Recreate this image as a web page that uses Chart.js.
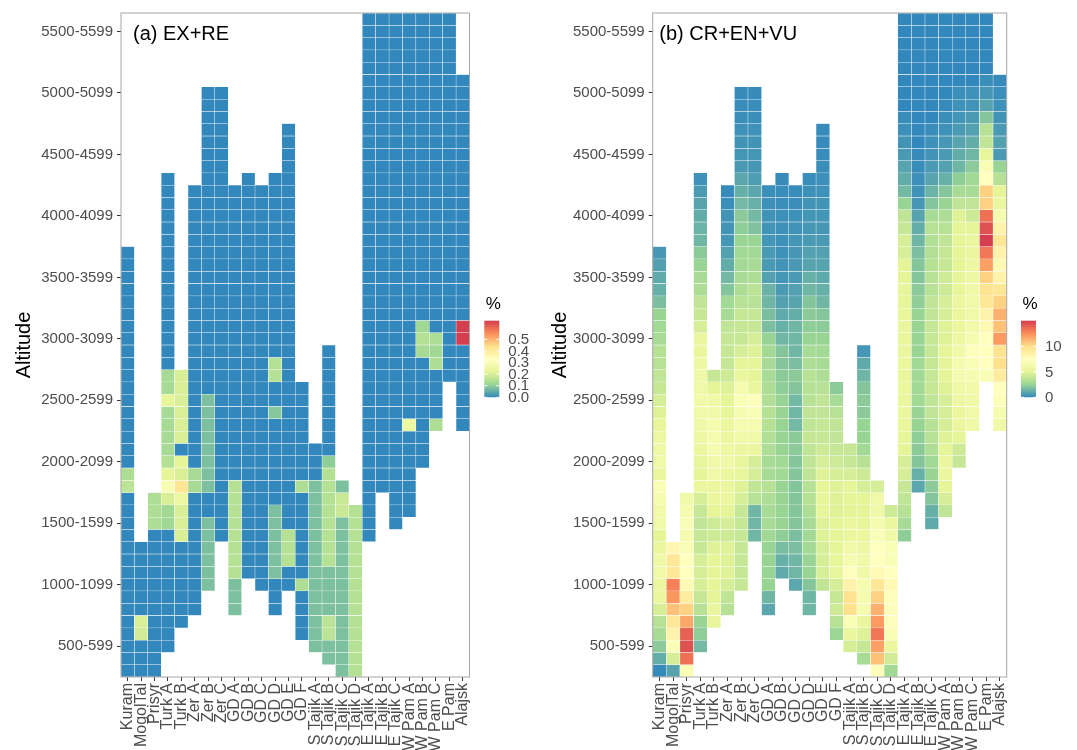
<!DOCTYPE html>
<html>
<head>
<meta charset="utf-8">
<title>Threatened species by altitude</title>
<script src="https://cdn.jsdelivr.net/npm/chart.js@4.4.1/dist/chart.umd.min.js"></script>
<style>
  html, body { margin: 0; padding: 0; background: #fff; }
  #wrap { position: relative; width: 1077px; height: 750px; }
  canvas { position: absolute; top: 0; }
  #chartA { left: 0; }
  #chartB { left: 540px; }
</style>
</head>
<body>
<div id="wrap">
  <canvas id="chartA" width="540" height="750"></canvas>
  <canvas id="chartB" width="537" height="750"></canvas>
</div>
<script>
// Regions along the x axis
const regions = ['Kuram', 'MogolTal', 'Prisyr', 'Turk A', 'Turk B', 'Zer A', 'Zer B', 'Zer C',
    'GD A', 'GD B', 'GD C', 'GD D', 'GD E', 'GD F', 'S Tajik A', 'S Tajik B', 'S Tajik C', 'S Tajik D',
    'E Tajik A', 'E Tajik B', 'E Tajik C', 'W Pam A', 'W Pam B', 'W Pam C', 'E Pam', 'Alajsk'];

// Altitude bands, bottom to top
const bands = ['300-399', '400-499', '500-599', '600-699', '700-799', '800-899', '900-999',
    '1000-1099', '1100-1199', '1200-1299', '1300-1399', '1400-1499', '1500-1599', '1600-1699',
    '1700-1799', '1800-1899', '1900-1999', '2000-2099', '2100-2199', '2200-2299', '2300-2399',
    '2400-2499', '2500-2599', '2600-2699', '2700-2799', '2800-2899', '2900-2999', '3000-3099',
    '3100-3199', '3200-3299', '3300-3399', '3400-3499', '3500-3599', '3600-3699', '3700-3799',
    '3800-3899', '3900-3999', '4000-4099', '4100-4199', '4200-4299', '4300-4399', '4400-4499',
    '4500-4599', '4600-4699', '4700-4799', '4800-4899', '4900-4999', '5000-5099', '5100-5199',
    '5200-5299', '5300-5399', '5400-5499', '5500-5599', '5600-5699'];

// Labelled bands on the y axis
const altTicks = ['500-599', '1000-1099', '1500-1599', '2000-2099', '2500-2599', '3000-3099',
    '3500-3599', '4000-4099', '4500-4599', '5000-5099', '5500-5599'];

// Lowest and highest band index covered by each region
const firstBand = [0, 0, 0, 2, 4, 5, 7, 11, 5, 8, 7, 5, 7, 3, 2, 1, 0, 0, 11, 15, 12, 13, 17, 20, 24, 20];
const lastBand = [34, 10, 14, 40, 24, 39, 47, 47, 39, 40, 39, 40, 44, 23, 18, 26, 15, 13, 53, 53, 53, 53, 53, 53, 53, 48];

// (a) EX+RE, % per band, each region listed from its lowest band upwards
const exre = [
    [0,0,0,0,0,0,0,0,0,0, 0,0,0,0,0,0.16,0.14,0,0,0, 0,0,0,0,0,0,0,0,0,0, 0,0,0,0,0],
    [0,0,0,0.19,0.2,0,0,0,0,0, 0],
    [0,0,0,0,0,0,0,0,0,0, 0,0,0.14,0.14,0.14],
    [0,0,0,0,0,0,0,0,0,0, 0.12,0.12,0.2,0.3,0.22,0.15,0.13,0.13,0.13,0.13, 0.22,0.13,0.13,0,0,0,0,0,0,0, 0,0,0,0,0,0,0,0,0],
    [0,0,0,0,0,0,0,0.2,0.2,0.2, 0.25,0.42,0.2,0.22,0,0.2,0.2,0.2,0.2,0.2, 0.2],
    [0,0,0,0,0,0,0,0,0,0, 0.13,0.13,0,0,0,0,0,0,0,0, 0,0,0,0,0,0,0,0,0,0, 0,0,0,0,0],
    [0.08,0.08,0.08,0.08,0.08,0.08,0,0,0.08,0.08, 0.08,0.08,0.08,0.08,0.08,0.08,0,0,0,0, 0,0,0,0,0,0,0,0,0,0, 0,0,0,0,0,0,0,0,0,0, 0],
    [0,0,0,0,0,0,0,0,0,0, 0,0,0,0,0,0,0,0,0,0, 0,0,0,0,0,0,0,0,0,0, 0,0,0,0,0,0,0],
    [0.08,0.08,0.08,0.15,0.15,0.15,0.15,0.15,0.15,0.15, 0.15,0,0,0,0,0,0,0,0,0, 0,0,0,0,0,0,0,0,0,0, 0,0,0,0,0],
    [0,0,0,0,0,0,0,0,0,0, 0,0,0,0,0,0,0,0,0,0, 0,0,0,0,0,0,0,0,0,0, 0,0,0],
    [0,0,0,0,0,0,0,0,0,0, 0,0,0,0,0,0,0,0,0,0, 0,0,0,0,0,0,0,0,0,0, 0,0,0],
    [0,0,0,0.08,0.08,0.08,0.08,0.08,0.08,0, 0,0,0,0,0,0,0.09,0,0,0.15, 0.15,0,0,0,0,0,0,0,0,0, 0,0,0,0,0,0],
    [0,0,0.15,0.15,0.15,0,0,0,0,0, 0,0,0,0,0,0,0,0,0,0, 0,0,0,0,0,0,0,0,0,0, 0,0,0,0,0,0,0,0],
    [0,0,0,0,0.14,0,0,0,0,0, 0,0,0.14,0,0,0,0,0,0,0, 0],
    [0.08,0.08,0.08,0.08,0.08,0.08,0.08,0.08,0.08,0.08, 0.08,0.08,0.08,0.08,0,0,0],
    [0.08,0.08,0.16,0.16,0.08,0.08,0.08,0.08,0.15,0.15, 0.15,0.15,0.15,0.15,0.15,0.15,0.1,0,0,0, 0,0,0,0,0,0],
    [0.08,0.08,0.08,0.08,0.08,0.08,0.08,0.08,0.08,0.08, 0.08,0.08,0.08,0.18,0.18,0.08],
    [0.15,0.15,0.15,0.15,0.15,0.15,0.15,0.15,0.15,0.15, 0.15,0.15,0.15,0.15],
    [0,0,0,0,0,0,0,0,0,0, 0,0,0,0,0,0,0,0,0,0, 0,0,0,0,0,0,0,0,0,0, 0,0,0,0,0,0,0,0,0,0, 0,0,0],
    [0,0,0,0,0,0,0,0,0,0, 0,0,0,0,0,0,0,0,0,0, 0,0,0,0,0,0,0,0,0,0, 0,0,0,0,0,0,0,0,0],
    [0,0,0,0,0,0,0,0,0,0, 0,0,0,0,0,0,0,0,0,0, 0,0,0,0,0,0,0,0,0,0, 0,0,0,0,0,0,0,0,0,0, 0,0],
    [0,0,0,0,0,0,0,0.25,0,0, 0,0,0,0,0,0,0,0,0,0, 0,0,0,0,0,0,0,0,0,0, 0,0,0,0,0,0,0,0,0,0, 0],
    [0,0,0,0,0,0,0,0,0,0.13, 0.15,0.12,0,0,0,0,0,0,0,0, 0,0,0,0,0,0,0,0,0,0, 0,0,0,0,0,0,0],
    [0.14,0,0,0,0,0.14,0.12,0.14,0,0, 0,0,0,0,0,0,0,0,0,0, 0,0,0,0,0,0,0,0,0,0, 0,0,0,0],
    [0,0,0,0,0,0,0,0,0,0, 0,0,0,0,0,0,0,0,0,0, 0,0,0,0,0,0,0,0,0,0],
    [0,0,0,0,0,0,0,0.66,0.66,0, 0,0,0,0,0,0,0,0,0,0, 0,0,0,0,0,0,0,0,0]
];

// (b) CR+EN+VU, % per band, each region listed from its lowest band upwards
const crenvu = [
    [0.1,1.2,2.2,3,3.5,4.5,5.5,5.5,6,6, 5.5,5,6,6.2,6.5,7,5.5,6,6,5.8, 5.3,4.8,4.5,4,3.8,3.5,3.5,3,2.8,2.5, 1.8,1.3,1.1,0.8,0.5],
    [0.9,4.5,7,8.5,9.5,11,12.3,13,9.5,9.5, 8.3],
    [7,13.5,14.5,14,11.8,10.5,9,8,7.5,7.5, 7,6.5,7,6.5,6],
    [1.6,2.3,2.5,3.5,4,4.5,4.5,4.5,4,4, 3.8,4,4.5,5.5,5,5.2,5.5,5.8,6,6, 6.2,6,6,5.8,5.5,5.5,4.5,4,3.8,3.2, 3,2.5,2.2,1.5,1.4,1.2,0.9,0.6,0.3],
    [5.3,5.5,5,5,5,5,4.8,4.2,4.2,5, 5.5,5.5,6,6,6.5,6.5,6.5,6,6,5, 4],
    [3.5,3.8,4.5,4.8,4.8,4.8,4.2,4.5,5,5.5, 5.5,5.5,6,5.8,5.5,5.5,5.2,5,4.8,4.2, 4,4,4,3.8,3,2.8,2,1.6,1.2,0.8, 0.5,0.4,0.4,0.2,0.1],
    [4,4,4,4,4,4,4,4.5,4.8,5.2, 5.2,5.5,6,6.5,6.5,7,6.5,5.5,5,4.5, 4,4,4,3.5,3.2,3,2.8,2.8,2.5,2.3, 2.2,1.6,1.3,1,0.6,0.45,0.4,0.3,0.2,0.15, 0.1],
    [1.5,1.5,1.5,3.5,3.8,4.5,4.5,5.5,6,6.5, 7,7.3,5.5,5,5,4.8,4.5,4,4,3.5, 3.6,3.2,3,2.8,2.5,1.9,1.6,1.3,1,0.7, 0.5,0.45,0.4,0.3,0.2,0.15,0.1],
    [1,1.5,2.5,2.5,2.5,2.5,2.8,3,3,3.2, 3.5,3,3,3.2,3.3,3.5,3.5,3.3,3.2,3, 3,2.8,2.5,1.8,1.8,1.5,1.4,0.8,0.6,0.6, 0.45,0.4,0.35,0.25,0.2],
    [1.1,1.3,1.7,2.3,2.5,2.5,2.5,2.5,2.8,2.8, 2.5,2.5,2.5,2.5,2.5,2.3,2.2,2,2,1.5, 1.3,1.1,0.8,0.6,0.45,0.4,0.3,0.3,0.3,0.25, 0.2,0.15,0.1],
    [1,1.5,1.5,1.8,1.8,2,2,2,2,2, 2,2.2,2.2,1.6,1.5,1.6,2,2.2,1.8,1.5, 1.5,1.5,1.2,0.9,0.8,0.6,0.55,0.5,0.45,0.35, 0.3,0.2,0.15],
    [1.5,1.5,2,2.5,2.5,2.8,2.8,3,3.2,3.5, 3.5,3.8,3.8,3.8,4,3.8,3.8,3.5,3.5,3.5, 3.2,3,2.5,2.3,2.2,2,1.5,1.3,0.9,0.8, 0.6,0.5,0.45,0.4,0.3,0.2],
    [3.8,4.5,4.5,4.5,4.8,4.8,5.2,5.2,5,4.8, 4.5,4.2,4,4,3.8,3.8,3.5,3.2,3,2.8, 2.5,2.2,2,1.5,1.3,1.1,0.9,0.8,0.6,0.5, 0.45,0.4,0.3,0.25,0.2,0.15,0.1,0.1],
    [2.6,3.5,4.2,4,4.5,5.2,5.2,5,5,5, 4.8,4.8,4.8,4.5,4.2,4,3.8,3.8,3.5,3, 2.2],
    [4.5,5.5,7,10,9.8,8.5,7.3,6.5,6,5.5, 5.5,5,5,5,4.5,4,4],
    [3,4,4.8,5.5,6.5,6.5,6.5,6,6,5.8, 5.5,5.2,5,5,4.5,4.2,3.5,2.8,2.5,2.5, 2.2,2.2,2,1.5,1.1,0.5],
    [7.2,11,12,13.3,12.2,11.5,10.5,9.5,8,7.5, 7.5,7,6.5,6,6,4.5],
    [2.8,4.3,5.5,7,7.3,7.3,7.3,8,7.5,7, 7,6,5.5,4.2],
    [2.3,3,3.5,3.8,4,4.5,4.5,5,5.2,5.3, 5.5,5.5,5.5,5.3,5.5,5.5,5.3,5.5,5.3,5.2, 5.2,5,5,4.5,4.5,4,3.8,2.5,1.6,1.2, 0.9,0.6,0.4,0.25,0.15,0,0,0,0,0, 0,0,0],
    [1,1.3,2,2.2,2.3,2.5,2.5,2.8,2.8,2.8, 2.8,2.5,2.5,2.5,2.5,2.3,2.2,2,2,1.8, 1.5,1.2,0.9,0.5,0.35,0.25,0.15,0.1,0,0, 0,0,0,0,0,0,0,0,0],
    [1.1,1.3,2,2.2,2.5,2.8,3.2,3.5,3.5,3.8, 3.8,4,4,4,4,4,4,3.8,3.8,3.5, 3.5,3.5,3.3,3.3,3.5,3,2,1.4,0.9,0.6, 0.4,0.3,0.15,0,0,0,0,0,0,0, 0,0],
    [3.8,4.5,5,5.5,5.5,5,4.8,4.5,4.5,4.5, 4.8,5,5,5,4.8,4.8,4.5,4.5,4.2,4.2, 4,4,3.8,3.5,3.2,2.5,2,1.3,0.8,0.6, 0.5,0.3,0.2,0.1,0,0,0,0,0,0, 0],
    [4,4.2,5,5.5,5.5,5.8,6,6.5,6.5,6, 5.8,5.5,5.5,5.5,5.3,5.2,5,5,5,5, 4.8,3.8,3,2.3,1.5,1.2,0.9,0.6,0.45,0.3, 0.2,0,0,0,0,0,0],
    [6,6,6,6.2,6.5,7,7.3,6.5,6.2,6, 6,6,5.8,5.8,5.5,5.5,5,4.2,3.8,3, 2.8,2.2,1.5,1.2,0.8,0.6,0.4,0.3,0,0, 0,0,0,0],
    [7,7.5,7.5,7.5,8,8.5,9.5,9.8,10.5,12, 13.3,15.1,14.5,13.5,10.5,10.5,7.5,7,5.2,3.8, 3.5,2,0.9,0.5,0.2,0,0,0,0,0],
    [6,6.5,7.2,7.5,9,10,9.8,12.2,11,11.5, 10.5,9.5,8.5,8,8.5,9.5,8.5,6.5,5.5,5, 3.5,2.5,0.6,0.8,0.6,0.4,0.3,0.2,0.1]
];

// Colour bar limits and labels
const exreMax = 0.66;
const exreTicks = [0, 0.1, 0.2, 0.3, 0.4, 0.5];
const crenvuMax = 15.1;
const crenvuTicks = [0, 5, 10];

// Spectral palette, low to high
const spectral = ['#3288BD', '#99D594', '#E6F598', '#FFFFBF', '#FEE08B', '#FC8D59', '#D53E4F'];

const FONT = '"Liberation Sans", Arial, sans-serif';
Chart.defaults.font.family = FONT;

const stops = spectral.map(h => [parseInt(h.slice(1, 3), 16), parseInt(h.slice(3, 5), 16), parseInt(h.slice(5, 7), 16)]);

// Interpolate the palette for a value
function fillFor(v, max) {
    const t = Math.max(0, Math.min(1, v / max)) * (stops.length - 1);
    const i = Math.min(Math.floor(t), stops.length - 2);
    const f = t - i;
    const a = stops[i], b = stops[i + 1];
    const c = a.map((x, k) => Math.round(x + (b[k] - x) * f));
    return `rgb(${c[0]},${c[1]},${c[2]})`;
}

// One floating bar per (region, band) cell
function buildCells(values) {
    const cells = [];
    values.forEach((col, i) => {
        if (firstBand[i] + col.length - 1 !== lastBand[i]) {
            console.error('band count mismatch for ' + regions[i] + ': ' + col.length);
        }
        col.forEach((v, k) => {
            const r = firstBand[i] + k;
            cells.push({ x: regions[i], y: [r, r + 1], v: v });
        });
    });
    return cells;
}

// Panel frame, tag and colour bar
const panelDecor = {
    id: 'panelDecor',
    afterDraw(chart, args, o) {
        const { ctx, chartArea: a } = chart;
        ctx.save();

        ctx.strokeStyle = '#a6a6a6';
        ctx.lineWidth = 1;
        ctx.strokeRect(a.left, a.top, a.right - a.left, a.bottom - a.top);

        ctx.fillStyle = '#000';
        ctx.font = '20px ' + FONT;
        ctx.textAlign = 'left';
        ctx.textBaseline = 'alphabetic';
        ctx.fillText(o.tag, a.left + o.tagDx, 39.5);

        // colour bar
        const bx = o.barX, by = 320.7, bw = 15, bh = 76.6;
        const grad = ctx.createLinearGradient(0, by + bh, 0, by);
        spectral.forEach((c, i) => grad.addColorStop(i / (spectral.length - 1), c));
        ctx.fillStyle = grad;
        ctx.fillRect(bx, by, bw, bh);

        ctx.fillStyle = '#000';
        ctx.font = '17px ' + FONT;
        ctx.fillText('%', bx + 1.5, 308.5);

        ctx.font = '15px ' + FONT;
        ctx.textBaseline = 'middle';
        ctx.strokeStyle = '#fff';
        o.ticks.forEach(t => {
            const ty = by + bh - (t / o.max) * bh;
            ctx.beginPath();
            ctx.moveTo(bx, ty); ctx.lineTo(bx + 3, ty);
            ctx.moveTo(bx + bw - 3, ty); ctx.lineTo(bx + bw, ty);
            ctx.stroke();
            ctx.fillStyle = '#4d4d4d';
            ctx.fillText(t.toFixed(o.digits), bx + bw + 9, ty + 0.5);
        });
        ctx.restore();
    }
};

function panelConfig(values, max, setup) {
    return {
        type: 'bar',
        data: {
            labels: regions,
            datasets: [{
                data: buildCells(values),
                backgroundColor: ctx => (ctx.raw ? fillFor(ctx.raw.v, max) : spectral[0]),
                borderColor: 'rgba(255,255,255,0.85)',
                borderWidth: 0.5,
                borderSkipped: false,
                barPercentage: 1,
                categoryPercentage: 1,
                grouped: false
            }]
        },
        options: {
            responsive: false,
            animation: false,
            events: [],
            layout: { padding: { left: 0, top: 11.5, right: setup.padRight, bottom: 0 } },
            scales: {
                x: {
                    type: 'category',
                    offset: true,
                    afterFit: s => { s.height = 73; },
                    ticks: {
                        autoSkip: false,
                        minRotation: 90,
                        maxRotation: 90,
                        padding: 2,
                        color: '#4d4d4d',
                        font: { size: 16 }
                    },
                    grid: { offset: false, drawOnChartArea: false, tickLength: 4, color: '#333' },
                    border: { display: false }
                },
                y: {
                    type: 'linear',
                    min: 0,
                    max: bands.length,
                    afterBuildTicks: s => {
                        s.ticks = altTicks.map(l => ({ value: bands.indexOf(l) + 0.5 }));
                    },
                    afterFit: s => { s.width = setup.yWidth; },
                    ticks: {
                        autoSkip: false,
                        padding: 4,
                        color: '#4d4d4d',
                        font: { size: 15 },
                        callback: (v, i) => altTicks[i]
                    },
                    grid: { drawOnChartArea: false, tickLength: 4, color: '#333' },
                    border: { display: false },
                    title: {
                        display: true,
                        text: 'Altitude',
                        color: '#000',
                        font: { size: 20 },
                        padding: { top: setup.titlePad, bottom: 0 }
                    }
                }
            },
            plugins: {
                legend: { display: false },
                tooltip: { enabled: false },
                panelDecor: {
                    tag: setup.tag,
                    tagDx: setup.tagDx,
                    barX: setup.barX,
                    max: max,
                    ticks: setup.ticks,
                    digits: setup.digits
                }
            }
        },
        plugins: [panelDecor]
    };
}

new Chart(document.getElementById('chartA'), panelConfig(exre, exreMax, {
    tag: '(a) EX+RE', tagDx: 12, yWidth: 121, padRight: 70.5, titlePad: 12,
    barX: 484.3, ticks: exreTicks, digits: 1
}));

new Chart(document.getElementById('chartB'), panelConfig(crenvu, crenvuMax, {
    tag: '(b) CR+EN+VU', tagDx: 6.6, yWidth: 112.7, padRight: 70.3, titlePad: 8,
    barX: 481, ticks: crenvuTicks, digits: 0
}));
</script>
</body>
</html>
